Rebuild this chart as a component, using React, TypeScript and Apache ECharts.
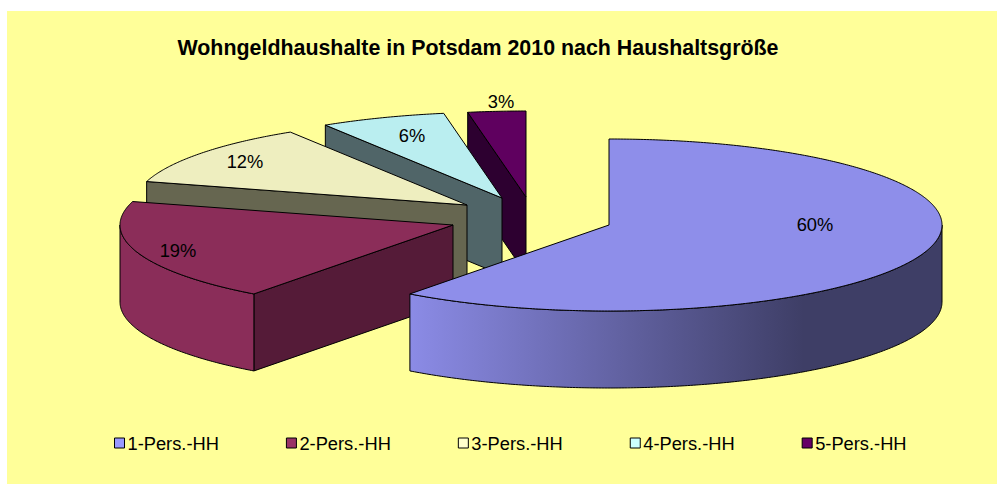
import React, { useEffect, useRef } from "react";
import * as echarts from "echarts";

const titleText = "Wohngeldhaushalte in Potsdam 2010 nach Haushaltsgröße";
const categories = ["1-Pers.-HH", "2-Pers.-HH", "3-Pers.-HH", "4-Pers.-HH", "5-Pers.-HH"];
// Share of households in percent
const shares = [60.2, 19.2, 11.7, 6.1, 2.8];

const legendColors = ["#9999ff", "#993366", "#ffffcc", "#ccffff", "#660066"];
const topColors = ["#8e8eea", "#8b2d59", "#eeeebf", "#baeef0", "#5f005f"];
const faceColors = ["#3e3e66", "#551b38", "#666650", "#506568", "#2d0030"];
const wallColors = ["#8b8be6", "#8a2d59", "#eeeebf", "#baeef0", "#5f005f"];
// Exploded apex of each slice and centre of its label, in page pixels
const apexX = [609, 453, 467, 502, 526];
const apexY = [225, 225, 205, 198, 197];
const labelX = [815, 178, 245, 412, 501];
const labelY = [224, 250, 161, 135, 101];

const RX = 333;
const RY = 86;
const DEPTH = 77;
const FONT = "'Liberation Sans', Arial, sans-serif";
const total = shares.reduce((a, b) => a + b, 0);

function rim(cx: number, cy: number, deg: number): number[] {
  const t = (deg * Math.PI) / 180;
  return [cx + RX * Math.sin(t), cy - RY * Math.cos(t)];
}

function arc(cx: number, cy: number, from: number, to: number): number[][] {
  const pts: number[][] = [];
  const n = Math.max(2, Math.ceil(Math.abs(to - from) / 0.5));
  for (let i = 0; i <= n; i++) pts.push(rim(cx, cy, from + ((to - from) * i) / n));
  return pts;
}

function makeRenderItem(index: number) {
  return (_params: any, api: any) => {
    const value = api.value(0) as number;
    const before = api.value(1) as number;
    const start = (before / total) * 360;
    const end = ((before + value) / total) * 360;
    const cx = apexX[index];
    const cy = apexY[index];
    const line = { stroke: "#000", lineWidth: 1, lineJoin: "round" };
    const children: any[] = [];

    const addFace = (deg: number) => {
      const p = rim(cx, cy, deg);
      children.push({
        type: "polygon",
        z2: 1,
        shape: { points: [[cx, cy], p, [p[0], p[1] + DEPTH], [cx, cy + DEPTH]] },
        style: { fill: faceColors[index], ...line },
      });
    };
    if (Math.sin((start * Math.PI) / 180) < 0) addFace(start);
    if (Math.sin((end * Math.PI) / 180) > 0) addFace(end);

    const wallFrom = Math.max(start, 90);
    const wallTo = Math.min(end, 270);
    if (wallTo > wallFrom) {
      const upper = arc(cx, cy, wallFrom, wallTo);
      const lower = upper.map((p) => [p[0], p[1] + DEPTH]).reverse();
      const fill =
        index === 0
          ? new echarts.graphic.LinearGradient(1, 0, 0, 0, [
              { offset: 0, color: faceColors[0] },
              { offset: 0.26, color: faceColors[0] },
              { offset: 1, color: wallColors[0] },
            ])
          : wallColors[index];
      children.push({
        type: "polygon",
        z2: 2,
        shape: { points: upper.concat(lower) },
        style: { fill, ...line },
      });
    }

    children.push({
      type: "polygon",
      z2: 3,
      shape: { points: [[cx, cy], ...arc(cx, cy, start, end)] },
      style: { fill: topColors[index], ...line },
    });
    children.push({
      type: "text",
      z2: 4,
      style: {
        x: labelX[index],
        y: labelY[index],
        text: `${Math.round((value / total) * 100)}%`,
        fill: "#000",
        font: `18.3px ${FONT}`,
        align: "center",
        verticalAlign: "middle",
      },
    });
    return { type: "group", children };
  };
}

export default function App() {
  const ref = useRef<HTMLDivElement>(null);
  useEffect(() => {
    const chart = echarts.init(ref.current!, undefined, { renderer: "svg" });
    let cumulative = 0;
    const series = categories.map((name, i) => {
      const before = cumulative;
      cumulative += shares[i];
      return {
        type: "custom",
        name,
        coordinateSystem: "none",
        z: 10 - i,
        itemStyle: { color: legendColors[i] },
        renderItem: makeRenderItem(i),
        data: [{ name, value: [shares[i], before] }],
        silent: true,
      };
    });
    chart.setOption({
      animation: false,
      backgroundColor: "#ffffff",
      graphic: [
        {
          type: "rect",
          z: -1,
          silent: true,
          shape: { x: 7, y: 11, width: 990, height: 473 },
          style: { fill: "#ffff99" },
        },
      ],
      title: {
        text: titleText,
        left: 473,
        top: 32,
        textAlign: "center",
        textStyle: { fontFamily: FONT, fontSize: 21.4, fontWeight: "bold", color: "#000" },
      },
      legend: {
        data: categories,
        left: 114,
        top: 434,
        icon: "rect",
        itemWidth: 10,
        itemHeight: 10,
        itemGap: 67,
        selectedMode: false,
        padding: 0,
        itemStyle: { borderColor: "#000", borderWidth: 1 },
        textStyle: { fontFamily: FONT, fontSize: 18.3, color: "#000", padding: [0, 0, 0, -2] },
      },
      series,
    });
    return () => chart.dispose();
  }, []);
  return <div ref={ref} style={{ position: "absolute", left: 0, top: 0, width: 997, height: 484 }} />;
}
